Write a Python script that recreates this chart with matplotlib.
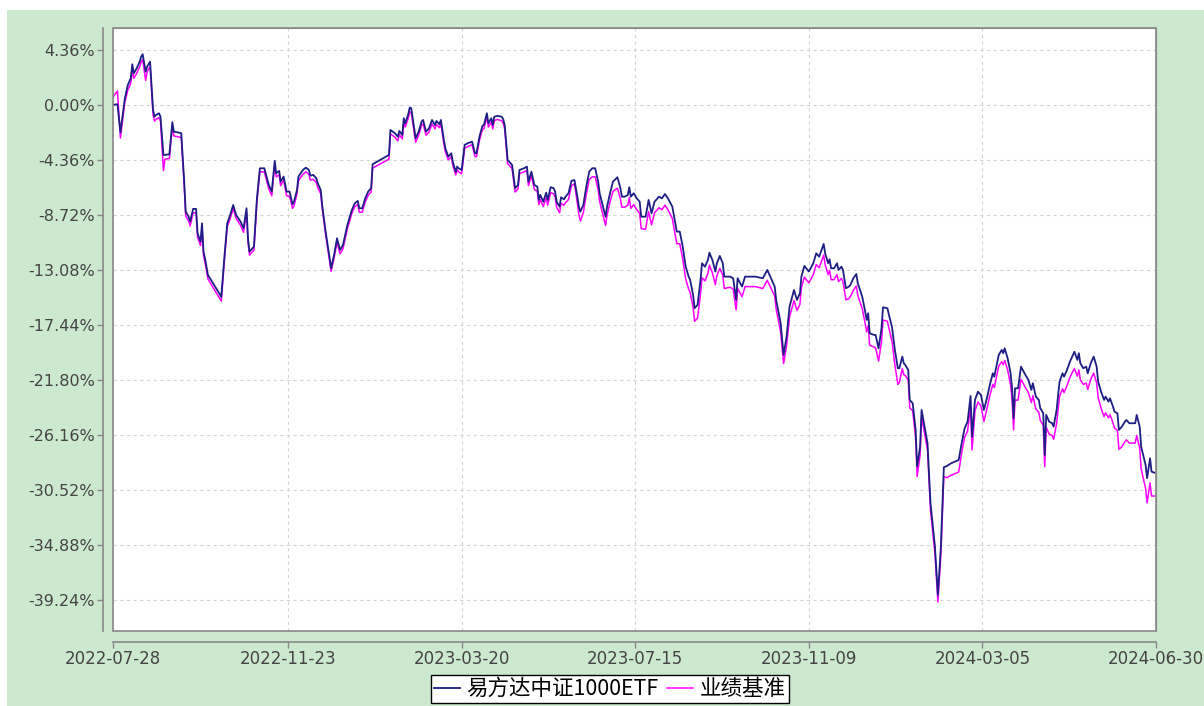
import pandas as pd
import matplotlib
matplotlib.use('Agg')
import matplotlib.pyplot as plt
from matplotlib.patches import Rectangle
from matplotlib.font_manager import FontProperties

start = pd.Timestamp('2022-07-28')
end = pd.Timestamp('2024-06-30')

# days after 2022-07-28
day_offset = [
    0, 3, 5, 8, 10, 12, 13, 14, 16, 18, 19, 20, 22, 23, 25, 27, 28, 29, 31, 32,
    34, 35, 38, 40, 41, 43, 46, 48, 49, 51, 52, 54, 56, 57, 59, 60, 61, 62, 64, 73,
    75, 77, 79, 81, 83, 86, 88, 90, 91, 92, 95, 97, 99, 102, 105, 107, 109, 110, 112, 113,
    115, 117, 119, 121, 122, 124, 125, 128, 130, 132, 133, 135, 137, 138, 140, 141, 143, 147, 149, 151,
    153, 155, 158, 161, 163, 165, 166, 168, 170, 172, 174, 175, 186, 187, 190, 192, 193, 195, 196, 197,
    199, 200, 201, 204, 206, 208, 209, 211, 213, 215, 217, 218, 220, 221, 223, 224, 226, 228, 229, 231,
    232, 233, 235, 237, 239, 242, 244, 245, 247, 249, 250, 252, 253, 255, 256, 257, 259, 262, 263, 264,
    266, 268, 269, 271, 273, 274, 277, 279, 280, 282, 284, 286, 287, 288, 290, 292, 293, 295, 297, 298,
    299, 301, 302, 304, 305, 307, 309, 311, 313, 314, 315, 317, 319, 321, 323, 325, 327, 328, 330, 332,
    333, 335, 337, 340, 342, 343, 345, 347, 348, 349, 351, 353, 355, 356, 359, 361, 363, 365, 368, 370,
    372, 374, 377, 378, 380, 382, 384, 386, 388, 389, 391, 392, 394, 396, 397, 399, 401, 402, 404, 406,
    407, 409, 411, 412, 416, 418, 420, 421, 424, 426, 433, 438, 441, 443, 446, 447, 450, 452, 454, 456,
    459, 461, 463, 464, 466, 469, 472, 474, 476, 478, 479, 480, 482, 483, 484, 486, 488, 489, 491, 492,
    494, 496, 497, 499, 501, 502, 505, 507, 508, 509, 510, 513, 514, 516, 518, 519, 522, 523, 525, 527,
    529, 530, 532, 533, 534, 536, 537, 539, 541, 542, 544, 545, 547, 549, 551, 554, 556, 558, 560, 562,
    565, 570, 572, 574, 576, 578, 579, 581, 583, 585, 587, 589, 591, 593, 594, 597, 599, 600, 601, 603,
    605, 606, 607, 608, 610, 612, 615, 617, 619, 620, 622, 624, 625, 627, 628, 629, 631, 633, 634, 636,
    638, 640, 641, 643, 645, 647, 648, 650, 651, 652, 654, 656, 657, 659, 660, 661, 663, 664, 666, 668,
    669, 671, 672, 674, 675, 677, 678, 680, 682, 683, 685, 689, 690, 692, 693, 696, 697, 699, 700, 702,
]

# 易方达中证1000ETF cumulative return (%)
fund = [
    0.00, 0.06, -2.16, 0.53, 1.59, 2.12, 3.23, 2.51, 2.91, 3.43, 3.83, 4.02, 2.64, 3.04, 3.43, -0.40, -0.93, -0.79, -0.66, -0.93,
    -3.96, -3.96, -3.91, -1.37, -2.12, -2.16, -2.24, -6.08, -8.46, -8.86, -9.25, -8.24, -8.24, -10.17, -10.84, -9.38, -11.63, -12.16, -13.48, -15.20,
    -12.16, -9.38, -8.72, -7.93, -8.72, -9.25, -9.77, -8.19, -10.57, -11.63, -11.23, -7.40, -5.02, -5.02, -6.34, -6.87, -4.44, -5.41, -5.23, -6.08,
    -5.68, -6.87, -6.87, -7.87, -7.67, -6.74, -5.68, -5.15, -4.97, -5.15, -5.60, -5.55, -5.81, -6.21, -6.74, -7.93, -9.77, -12.94, -11.89, -10.57,
    -11.49, -11.10, -9.51, -8.32, -7.79, -7.61, -8.19, -8.19, -7.40, -6.87, -6.60, -4.70, -3.96, -1.98, -2.24, -2.51, -2.06, -2.38, -1.05, -1.45,
    -0.74, -0.21, -0.26, -2.64, -2.12, -1.32, -1.19, -2.12, -1.85, -1.19, -1.59, -1.27, -1.53, -1.19, -2.77, -3.43, -4.10, -3.83, -4.49, -5.29,
    -4.89, -5.02, -5.15, -3.17, -3.04, -2.91, -3.83, -3.83, -2.51, -1.66, -1.59, -0.66, -1.45, -1.05, -1.59, -0.93, -0.87, -0.93, -1.13, -1.59,
    -4.36, -4.62, -4.76, -6.60, -6.34, -5.15, -5.02, -4.89, -6.08, -5.29, -6.34, -6.48, -7.53, -7.13, -7.67, -6.95, -7.53, -6.52, -6.60, -6.87,
    -7.67, -8.06, -7.32, -7.48, -7.27, -7.00, -6.02, -5.95, -7.27, -8.06, -8.46, -7.93, -6.48, -5.29, -5.02, -5.02, -6.08, -7.00, -7.93, -8.86,
    -8.06, -7.00, -6.08, -5.73, -6.60, -7.27, -7.27, -7.13, -6.52, -7.27, -7.00, -7.40, -7.67, -8.86, -8.86, -7.53, -8.59, -7.67, -7.27, -7.40,
    -7.06, -7.40, -8.06, -8.72, -10.04, -10.04, -11.23, -12.82, -13.61, -13.87, -15.06, -16.11, -15.85, -13.87, -12.55, -12.82, -12.29, -11.71, -12.29, -13.21,
    -12.55, -11.97, -12.55, -13.61, -13.61, -13.74, -15.46, -13.74, -14.40, -13.61, -13.61, -13.74, -13.08, -13.61, -14.40, -15.46, -17.30, -19.82, -18.37, -15.99,
    -14.67, -15.46, -14.93, -13.61, -12.76, -13.21, -12.55, -11.76, -12.03, -11.36, -11.02, -11.76, -12.55, -12.23, -12.95, -12.95, -12.55, -13.08, -12.82, -13.08,
    -14.53, -14.40, -14.27, -13.74, -13.40, -14.13, -15.20, -16.39, -17.04, -16.51, -18.10, -18.23, -18.23, -19.29, -17.70, -16.04, -16.12, -16.65, -17.57, -19.42,
    -20.87, -20.87, -19.95, -20.48, -20.61, -21.01, -23.38, -23.65, -25.76, -28.67, -27.09, -24.18, -25.50, -26.82, -31.57, -35.01, -38.84, -35.01, -28.72, -28.62,
    -28.40, -28.14, -26.82, -25.63, -25.11, -23.07, -26.29, -23.38, -22.73, -22.99, -24.18, -23.25, -22.20, -21.27, -21.54, -19.82, -19.42, -19.68, -19.29, -20.08,
    -21.27, -22.46, -24.84, -22.46, -22.46, -20.75, -21.40, -21.80, -22.59, -22.06, -23.12, -23.38, -24.04, -24.44, -27.74, -24.57, -25.11, -25.23, -25.50, -24.18,
    -21.93, -21.27, -21.54, -21.01, -20.35, -19.82, -19.56, -20.21, -19.68, -20.48, -20.87, -20.75, -21.27, -20.48, -20.21, -19.95, -20.75, -21.93, -22.73, -23.38,
    -23.12, -23.52, -23.25, -23.92, -24.31, -24.44, -25.76, -25.50, -25.11, -24.97, -25.23, -25.23, -24.57, -25.50, -27.09, -28.54, -29.59, -28.01, -29.07, -29.15,
]

# 业绩基准 cumulative return (%)
bench = [
    0.63, 1.11, -2.62, 0.23, 1.19, 1.72, 2.83, 2.11, 2.51, 3.03, 3.43, 3.58, 1.95, 2.64, 3.03, -0.75, -1.28, -1.14, -1.01, -1.28,
    -5.20, -4.30, -4.25, -1.70, -2.45, -2.50, -2.58, -6.40, -8.80, -9.20, -9.60, -8.55, -8.55, -10.50, -11.15, -9.70, -11.95, -12.48, -13.80, -15.55,
    -12.45, -9.65, -9.00, -8.20, -9.00, -9.55, -10.10, -8.50, -10.90, -11.90, -11.50, -7.70, -5.30, -5.30, -6.65, -7.20, -4.75, -5.70, -5.55, -6.40,
    -5.95, -7.20, -7.25, -8.20, -8.00, -7.05, -6.00, -5.50, -5.30, -5.50, -5.95, -5.90, -6.15, -6.55, -7.05, -8.20, -10.00, -13.20, -12.15, -10.85,
    -11.80, -11.40, -9.80, -8.60, -8.05, -7.90, -8.50, -8.50, -7.70, -7.15, -6.90, -5.00, -4.30, -2.30, -2.55, -2.85, -2.35, -2.70, -1.40, -1.75,
    -1.05, -0.55, -0.60, -2.95, -2.40, -1.60, -1.50, -2.40, -2.15, -1.50, -1.90, -1.55, -1.80, -1.50, -3.05, -3.70, -4.35, -4.10, -4.75, -5.55,
    -5.15, -5.30, -5.45, -3.45, -3.30, -3.15, -4.10, -4.10, -2.80, -1.95, -1.90, -0.95, -1.75, -1.35, -1.90, -1.25, -1.15, -1.25, -1.45, -1.90,
    -4.65, -4.90, -5.05, -6.90, -6.65, -5.45, -5.30, -5.20, -6.40, -5.60, -6.70, -6.85, -7.90, -7.50, -8.05, -7.35, -7.95, -6.95, -7.05, -7.30,
    -8.10, -8.55, -7.80, -7.95, -7.75, -7.50, -6.40, -6.25, -7.80, -8.70, -9.20, -8.55, -7.10, -5.90, -5.70, -5.70, -6.75, -7.65, -8.60, -9.55,
    -8.75, -7.70, -6.85, -6.60, -7.45, -8.10, -8.10, -7.95, -7.35, -8.20, -7.90, -8.30, -8.60, -9.80, -9.85, -8.45, -9.50, -8.55, -8.15, -8.30,
    -7.95, -8.30, -9.00, -9.70, -11.00, -11.00, -12.20, -13.80, -14.60, -14.85, -16.05, -17.15, -16.90, -15.00, -13.70, -13.95, -13.35, -12.70, -13.30, -14.25,
    -13.55, -12.95, -13.50, -14.55, -14.45, -14.60, -16.25, -14.55, -15.20, -14.40, -14.40, -14.55, -13.90, -14.40, -15.15, -16.20, -18.00, -20.50, -19.10, -16.80,
    -15.50, -16.30, -15.80, -14.50, -13.65, -14.10, -13.45, -12.65, -12.90, -12.25, -11.90, -12.65, -13.45, -13.10, -13.85, -13.85, -13.45, -14.00, -13.75, -14.00,
    -15.45, -15.35, -15.20, -14.70, -14.35, -15.10, -16.15, -17.35, -18.00, -17.50, -19.05, -19.20, -19.25, -20.30, -18.75, -17.05, -17.15, -17.70, -18.70, -20.60,
    -22.15, -22.00, -20.90, -21.40, -21.45, -21.80, -24.00, -24.25, -26.40, -29.45, -27.75, -24.70, -26.05, -27.35, -32.10, -35.55, -39.40, -35.60, -29.45, -29.55,
    -29.35, -29.10, -27.60, -26.35, -25.85, -23.90, -27.35, -24.25, -23.55, -23.85, -25.10, -24.10, -23.05, -22.15, -22.40, -20.70, -20.35, -20.60, -20.25, -21.00,
    -22.20, -23.40, -25.76, -23.40, -23.40, -21.75, -22.40, -22.80, -23.60, -23.05, -24.10, -24.35, -25.00, -25.40, -28.67, -25.55, -26.10, -26.20, -26.50, -25.25,
    -23.10, -22.50, -22.80, -22.25, -21.60, -21.10, -20.90, -21.50, -21.00, -21.80, -22.15, -22.05, -22.55, -21.75, -21.50, -21.25, -22.05, -23.20, -24.05, -24.70,
    -24.40, -24.80, -24.55, -25.20, -25.60, -25.80, -27.30, -27.10, -26.70, -26.55, -26.80, -26.80, -26.20, -27.20, -28.85, -30.40, -31.55, -29.95, -31.00, -31.00,
]

x_tick_labels = ['2022-07-28', '2022-11-23', '2023-03-20', '2023-07-15',
                 '2023-11-09', '2024-03-05', '2024-06-30']
y_ticks = [4.36, 0.00, -4.36, -8.72, -13.08, -17.44, -21.80,
           -26.16, -30.52, -34.88, -39.24]

series_names = ['易方达中证1000ETF', '业绩基准']

dates = start + pd.to_timedelta(day_offset, unit='D')

W, H = 1204, 706
bg = '#cce8cf'
edge = '#888888'

fig = plt.figure(figsize=(W / 100, H / 100), dpi=100)
fig.patch.set_facecolor('white')
fig.add_artist(Rectangle((7 / W, 0), 1, 1 - 10 / H, transform=fig.transFigure,
                         facecolor=bg, edgecolor='none', zorder=-10))

ax = fig.add_axes([113 / W, 1 - 631 / H, 1043 / W, 603 / H])
ax.set_facecolor('white')

l_bench, = ax.plot(dates, bench, color='#ff00ff', lw=1.1, zorder=3)
l_fund, = ax.plot(dates, fund, color='#1e1e85', lw=1.3, zorder=4)

ax.set_xlim(start, end)
ax.set_ylim(-41.70, 6.10)
ax.set_yticks(y_ticks)
ax.set_yticklabels(['%.2f%%' % v for v in y_ticks])
ax.set_xticks(pd.to_datetime(x_tick_labels))
ax.set_xticklabels(x_tick_labels)

ax.grid(True, ls=(0, (3, 3)), color='#d4d4d4', lw=0.8)
ax.set_axisbelow(True)

for s in ['top', 'right']:
    ax.spines[s].set_color(edge)
ax.spines['left'].set_position(('outward', 7))
ax.spines['bottom'].set_position(('outward', 8))
ax.spines['left'].set_color(edge)
ax.spines['bottom'].set_color(edge)
ax.spines['left'].set_linewidth(1.2)
ax.spines['bottom'].set_linewidth(1.2)
# plot border
ax.add_patch(Rectangle((0, 0), 1, 1, transform=ax.transAxes, fill=False,
                       edgecolor=edge, lw=1.2, clip_on=False, zorder=6))

ax.tick_params(direction='out', length=4, width=1, color=edge,
               labelcolor='#444444', pad=2)
ax.tick_params(axis='x', labelsize=12)
ax.tick_params(axis='y', labelsize=11.5)

leg = fig.legend(handles=[l_fund, l_bench], labels=series_names,
                 loc='upper center', bbox_to_anchor=(610 / W, 1 - 675 / H),
                 ncol=2, frameon=True, fancybox=False, edgecolor='black',
                 facecolor='white', framealpha=1,
                 prop=FontProperties(family=['Noto Sans CJK SC', 'DejaVu Sans'], size=15.5),
                 handlelength=1.2, handletextpad=0.3, columnspacing=0.4,
                 borderpad=0.15, borderaxespad=0)
leg.get_frame().set_linewidth(1.0)

fig.savefig('out.png', dpi=100, facecolor=fig.get_facecolor())
